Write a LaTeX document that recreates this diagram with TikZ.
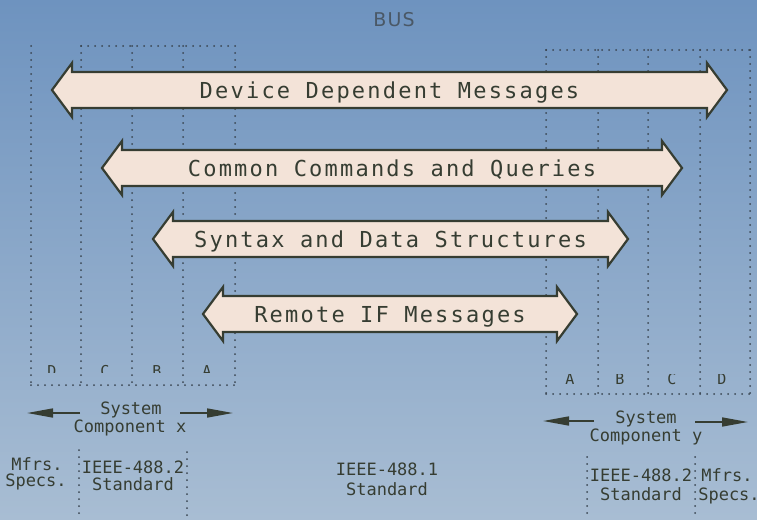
\documentclass[tikz,border=0pt]{standalone}
\usepackage{fontspec}
\usetikzlibrary{arrows.meta}
\newfontfamily\plotfont{DejaVu Sans Mono}
\newfontfamily\plotwide[LetterSpace=10]{DejaVu Sans Mono}
\newfontfamily\busfont[LetterSpace=6]{DejaVu Sans}
\definecolor{bgtop}{HTML}{6E93BF}
\definecolor{bgbot}{HTML}{A8BDD3}
\definecolor{arrowfill}{HTML}{F3E3D8}
\definecolor{ink}{HTML}{363D32}
\definecolor{dotink}{HTML}{3A4652}
\definecolor{businK}{HTML}{4A5866}
\tikzset{
  msgarrow/.style={draw=ink, fill=arrowfill, line width=2.2pt, line join=miter},
  msgtext/.style={text=ink, font=\fontsize{22}{26}\plotwide, anchor=base, inner sep=0pt},
  smalltext/.style={text=ink, font=\fontsize{17}{20}\plotfont, anchor=base, inner sep=0pt},
  lettext/.style={text=ink, font=\fontsize{15}{18}\plotfont, anchor=base, inner sep=0pt},
  dotline/.style={dotink, line width=2pt, line cap=round, dash pattern=on 0pt off 7pt},
  sysarrow/.style={ink, line width=1.6pt, -{Triangle[length=26pt,width=9pt]}},
}
% message arrow: name, left tip x, right tip x, centre y, text
\newcommand{\busarrow}[5]{%
  \draw[msgarrow] (#2,#4) -- ++(20,-27) -- ++(0,9) -- ({#3-20},{#4-18}) -- ++(0,-9)
    -- (#3,#4) -- ++(-20,27) -- ++(0,-9) -- ({#2+20},{#4+18}) -- ++(0,9) -- cycle;
  \node[msgtext] (#1) at ({(#2+#3)/2},{#4+8}) {#5};}
\begin{document}
\begin{tikzpicture}[x=1pt,y=-1pt]
\useasboundingbox (0,0) rectangle (757,519);
\clip (0,0) rectangle (757,519);
\shade[top color=bgtop, bottom color=bgbot] (0,0) rectangle (757,519);

\node[text=businK, font=\fontsize{19}{22}\busfont, anchor=base, inner sep=0pt] (bus) at (394,27) {BUS};

% columns of component x
\foreach \x in {31,81,132,183,235} \draw[dotline] (\x,46) -- (\x,385);
\draw[dotline] (81,46) -- (235,46);
\draw[dotline] (31,385) -- (235,385);
\begin{scope}
\clip (20,350) rectangle (240,372);
\foreach \l/\x in {D/52,C/105,B/157,A/207} \node[lettext] (lx\l) at (\x,376) {\l};
\end{scope}

% columns of component y
\foreach \x in {546,598,648,700,750} \draw[dotline] (\x,50) -- (\x,394);
\draw[dotline] (546,50) -- (750,50);
\draw[dotline] (546,394) -- (750,394);
\begin{scope}
\clip (540,374) rectangle (757,390);
\foreach \l/\x in {A/570,B/620,C/672,D/722} \node[lettext] (ly\l) at (\x,384) {\l};
\end{scope}

% layers
\busarrow{devmsg}{52}{727}{90}{Device Dependent Messages}
\busarrow{comcmd}{102}{682}{168}{Common Commands and Queries}
\busarrow{syntax}{153}{628}{239}{Syntax and Data Structures}
\busarrow{remoteif}{203}{577}{314}{Remote IF Messages}

% system component x
\node[smalltext] (sysxa) at (131,414) {System};
\node[smalltext] (sysxb) at (130,432) {Component x};
\coordinate (sysxl0) at (80,413);  \coordinate (sysxl) at (27,413);
\coordinate (sysxr0) at (180,413); \coordinate (sysxr) at (233,413);
\draw[sysarrow] (sysxl0) -- (sysxl);
\draw[sysarrow] (sysxr0) -- (sysxr);

% system component y
\node[smalltext] (sysya) at (646,423) {System};
\node[smalltext] (sysyb) at (646,441) {Component y};
\coordinate (sysyl0) at (594,421); \coordinate (sysyl) at (543,421);
\coordinate (sysyr0) at (695,422); \coordinate (sysyr) at (748,422);
\draw[sysarrow] (sysyl0) -- (sysyl);
\draw[sysarrow] (sysyr0) -- (sysyr);

% standards
\foreach \x/\y in {79/450,187/452,587/457,695/457} \draw[dotline] (\x,\y) -- (\x,519);
\node[smalltext] (mfrxa) at (37,470) {Mfrs.};
\node[smalltext] (mfrxb) at (36,486) {Specs.};
\node[smalltext] (stdxa) at (133,473) {IEEE-488.2};
\node[smalltext] (stdxb) at (133,490) {Standard};
\node[smalltext] (busa) at (387,475) {IEEE-488.1};
\node[smalltext] (busb) at (387,495) {Standard};
\node[smalltext] (stdya) at (641,481) {IEEE-488.2};
\node[smalltext] (stdyb) at (641,500) {Standard};
\node[smalltext] (mfrya) at (727,481) {Mfrs.};
\node[smalltext] (mfryb) at (729,500) {Specs.};
\end{tikzpicture}
\end{document}
